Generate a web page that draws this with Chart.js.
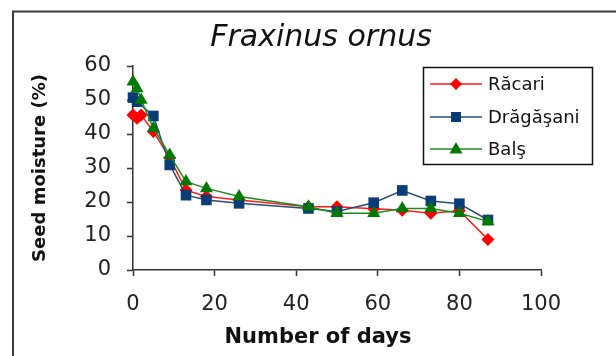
<!DOCTYPE html>
<html>
<head>
<meta charset="utf-8">
<script src="https://cdn.jsdelivr.net/npm/chart.js"></script>
<style>
  body { margin: 0; background: #fff; }
  #wrap { width: 616px; height: 356px; }
</style>
</head>
<body>
<div id="wrap"><canvas id="moistChart" width="616" height="356"></canvas></div>
<script>
// days after collection
let days = [0, 1, 2, 5, 9, 13, 18, 26, 43, 50, 59, 66, 73, 80, 87];
// seed moisture (%) per provenance
let racari    = [45.6, 44.6, 45.6, 40.7, 33.0, 23.5, 21.6, 20.6, 18.6, 18.6, 18.0, 17.6, 16.7, 17.4, 9.0];
let dragasani = [50.7, 49.5, null, 45.3, 30.9, 22.0, 20.6, 19.6, 18.1, 17.2, 19.8, 23.4, 20.3, 19.5, 14.7];
let bals      = [55.4, 53.4, 50.0, 41.7, 33.8, 26.0, 24.0, 21.6, 18.6, 16.7, 16.7, 18.1, 18.1, 16.7, 14.3];
let seriesNames = ['Răcari', 'Drăgăşani', 'Balş'];
let xTicks = [0, 20, 40, 60, 80, 100];
let yTicks = [0, 10, 20, 30, 40, 50, 60];

let font = 'DejaVu Sans';

function pts(vals) {
    return days.map((d, i) => ({ x: d, y: vals[i] })).filter(p => p.y !== null);
}

let styles = [
    { line: '#ff1a1a', fill: '#ff0000', shape: 'rectRot', r: 6.5 },
    { line: '#24506e', fill: '#083d78', shape: 'rect', r: 7.5 },
    { line: '#1f8a1f', fill: '#007a00', shape: 'triangle', r: 7.5 }
];

let allVals = [racari, dragasani, bals];

// frame, title, x title and legend box
let decor = {
    id: 'decor',
    beforeDraw(chart) {
        let c = chart.ctx;
        c.save();
        c.strokeStyle = '#3a3a3a';
        c.lineWidth = 2;
        c.strokeRect(13, 11.5, 700, 400);
        c.restore();
    },
    afterDraw(chart) {
        let c = chart.ctx;
        c.save();
        c.fillStyle = '#111';
        c.textAlign = 'center';
        c.textBaseline = 'middle';
        c.font = 'italic 30px "' + font + '"';
        c.fillText('Fraxinus ornus', 321, 38);
        c.font = 'bold 21px "' + font + '"';
        c.fillText('Number of days', 318, 338);

        // legend
        c.strokeStyle = '#111';
        c.lineWidth = 1.5;
        c.fillStyle = '#fff';
        c.fillRect(423, 67, 170, 98);
        c.strokeRect(423.5, 67.5, 169, 97);
        let rows = [84, 117, 149];
        c.textAlign = 'left';
        c.font = '18px "' + font + '"';
        seriesNames.forEach((name, i) => {
            let s = styles[i], y = rows[i];
            c.strokeStyle = s.line;
            c.lineWidth = 1.5;
            c.beginPath();
            c.moveTo(430, y);
            c.lineTo(482, y);
            c.stroke();
            c.fillStyle = s.fill;
            c.beginPath();
            if (s.shape === 'rect') {
                c.rect(451, y - 5, 10, 10);
            } else if (s.shape === 'rectRot') {
                c.moveTo(456, y - 6); c.lineTo(462, y); c.lineTo(456, y + 6); c.lineTo(450, y); c.closePath();
            } else {
                c.moveTo(456, y - 7); c.lineTo(462.5, y + 4.5); c.lineTo(449.5, y + 4.5); c.closePath();
            }
            c.fill();
            c.fillStyle = '#111';
            c.fillText(name, 488, y + 1);
        });
        c.restore();
    }
};

let ctx = document.getElementById('moistChart').getContext('2d');

let moistChart = new Chart(ctx, {
    type: 'line',
    data: {
        datasets: seriesNames.map((name, i) => ({
            label: name,
            data: pts(allVals[i]),
            borderColor: styles[i].line,
            borderWidth: 1.5,
            backgroundColor: styles[i].fill,
            pointBackgroundColor: styles[i].fill,
            pointBorderColor: styles[i].fill,
            pointBorderWidth: 0,
            pointStyle: styles[i].shape,
            pointRadius: styles[i].r,
            tension: 0,
            spanGaps: true,
            clip: false,
            order: 3 - i
        }))
    },
    options: {
        responsive: false,
        animation: false,
        devicePixelRatio: 1,
        layout: { padding: { top: 66, left: 0, right: 75, bottom: 0 } },
        plugins: {
            legend: { display: false },
            title: { display: false },
            tooltip: { enabled: false }
        },
        scales: {
            x: {
                type: 'linear',
                min: 0,
                max: 100,
                afterFit: s => { s.height = 86; },
                afterBuildTicks: s => { s.ticks = xTicks.map(v => ({ value: v })); },
                border: { color: '#333', width: 1.5 },
                grid: { drawOnChartArea: false, drawTicks: true, tickLength: 6, color: '#333', tickWidth: 1.5 },
                ticks: { color: '#222', padding: 16, font: { family: font, size: 21 }, maxRotation: 0 }
            },
            y: {
                min: 0,
                max: 60,
                afterFit: s => { s.width = 133; },
                afterBuildTicks: s => { s.ticks = yTicks.map(v => ({ value: v })); },
                border: { color: '#333', width: 1.5 },
                grid: { drawOnChartArea: false, drawTicks: true, tickLength: 6, color: '#333', tickWidth: 1.5 },
                ticks: { color: '#222', padding: 16, font: { family: font, size: 21 } },
                title: {
                    display: true,
                    text: 'Seed moisture (%)',
                    color: '#111',
                    font: { family: font, size: 18, weight: 'bold' },
                    padding: { top: 30, bottom: 0 }
                }
            }
        }
    },
    plugins: [decor]
});
</script>
</body>
</html>
